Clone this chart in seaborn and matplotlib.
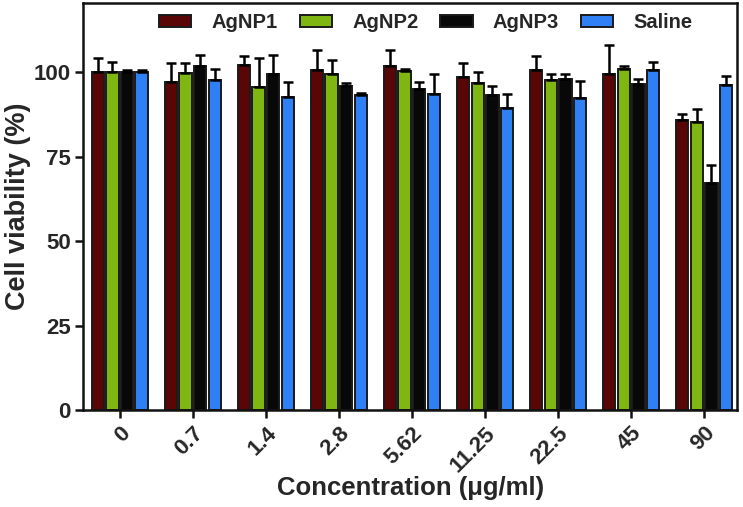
#cell viability bar chart for the silver nanoparticle samples
import matplotlib
matplotlib.use("Agg")
import matplotlib.pyplot as plt
import seaborn as sns
import numpy as np
import pandas as pd

# concentrations (ug/ml) on the x axis
concentrations = ["0", "0.7", "1.4", "2.8", "5.62", "11.25", "22.5", "45", "90"]
samples = ["AgNP1", "AgNP2", "AgNP3", "Saline"]

# mean viability (%) per sample, one value per concentration
agnp1 = [100.0, 97.0, 102.1, 100.6, 101.8, 98.6, 100.6, 99.5, 85.8]
agnp2 = [100.0, 99.7, 95.7, 99.4, 100.4, 96.8, 97.8, 100.9, 85.4]
agnp3 = [100.0, 101.9, 99.4, 96.0, 95.0, 93.4, 98.1, 96.4, 67.1]
saline = [100.0, 97.8, 92.7, 93.4, 93.6, 89.4, 92.4, 100.8, 96.2]

# upper error (top of whisker minus mean)
agnp1_err = [4.3, 5.8, 2.8, 6.1, 4.9, 4.2, 4.3, 8.6, 1.9]
agnp2_err = [3.1, 3.1, 8.6, 4.2, 0.7, 3.2, 1.8, 1.0, 3.7]
agnp3_err = [0.6, 3.3, 5.6, 0.9, 2.1, 2.5, 1.5, 1.7, 5.4]
saline_err = [0.6, 3.2, 4.3, 0.5, 6.0, 4.1, 4.9, 2.2, 2.6]

colors = ["#5a0606", "#7fb612", "#080808", "#2f80f5"]

sns.set_theme(style="white")
plt.rcParams["font.family"] = ["Liberation Sans", "DejaVu Sans"]
plt.rcParams["font.weight"] = "bold"

rows = []
for vals, errs, name in zip([agnp1, agnp2, agnp3, saline],
                            [agnp1_err, agnp2_err, agnp3_err, saline_err], samples):
    for c, v, e in zip(concentrations, vals, errs):
        rows.append({"conc": c, "sample": name, "viability": v, "err": e})
df = pd.DataFrame(rows)

fig = plt.figure(figsize=(7.43, 5.07), dpi=100)
ax = fig.add_axes([0.112, 0.191, 0.880, 0.803])

sns.barplot(data=df, x="conc", y="viability", hue="sample", order=concentrations,
            hue_order=samples, palette=colors, errorbar=None, gap=0.15,
            edgecolor="#1a1a1a", linewidth=1.4, saturation=1, ax=ax)

#error bars (upper only) placed on the drawn bars
bars = [p for p in ax.patches if p.get_height() > 0]
bars = sorted(bars, key=lambda p: p.get_x())
lookup = df.set_index(["conc", "sample"])["err"]
for i, p in enumerate(bars):
    c = concentrations[i // 4]
    s = samples[i % 4]
    xc = p.get_x() + p.get_width() / 2
    h = p.get_height()
    ax.errorbar(xc, h, yerr=[[0], [lookup[(c, s)]]], fmt="none", ecolor="black",
                elinewidth=1.8, capsize=3.5, capthick=1.8, zorder=3)

ax.set_xlim(-0.5, 8.45)
ax.set_ylim(0, 120.5)
ax.set_yticks([0, 25, 50, 75, 100])

for sp in ax.spines.values():
    sp.set_linewidth(1.8)
    sp.set_color("#111111")

ax.tick_params(axis="both", which="major", length=6, width=1.8, color="#111111",
               labelsize=16, bottom=True, left=True, pad=3)
for lab in ax.get_xticklabels():
    lab.set_rotation(45)
    lab.set_ha("right")
    lab.set_rotation_mode("anchor")
    lab.set_fontweight("bold")
for lab in ax.get_yticklabels():
    lab.set_fontweight("bold")

ax.set_xlabel("Concentration (\u03bcg/ml)", fontsize=18.5, fontweight="bold", labelpad=0)
ax.set_ylabel("Cell viability (%)", fontsize=19.5, fontweight="bold", labelpad=2)

sns.move_legend(ax, "center", bbox_to_anchor=(0.524, 0.951), ncol=4, frameon=False,
                title=None, fontsize=14.5, handlelength=1.6, handleheight=0.55,
                handletextpad=1.0, columnspacing=1.1)
for t in ax.get_legend().get_texts():
    t.set_fontweight("bold")

fig.savefig("out.png", dpi=100)
